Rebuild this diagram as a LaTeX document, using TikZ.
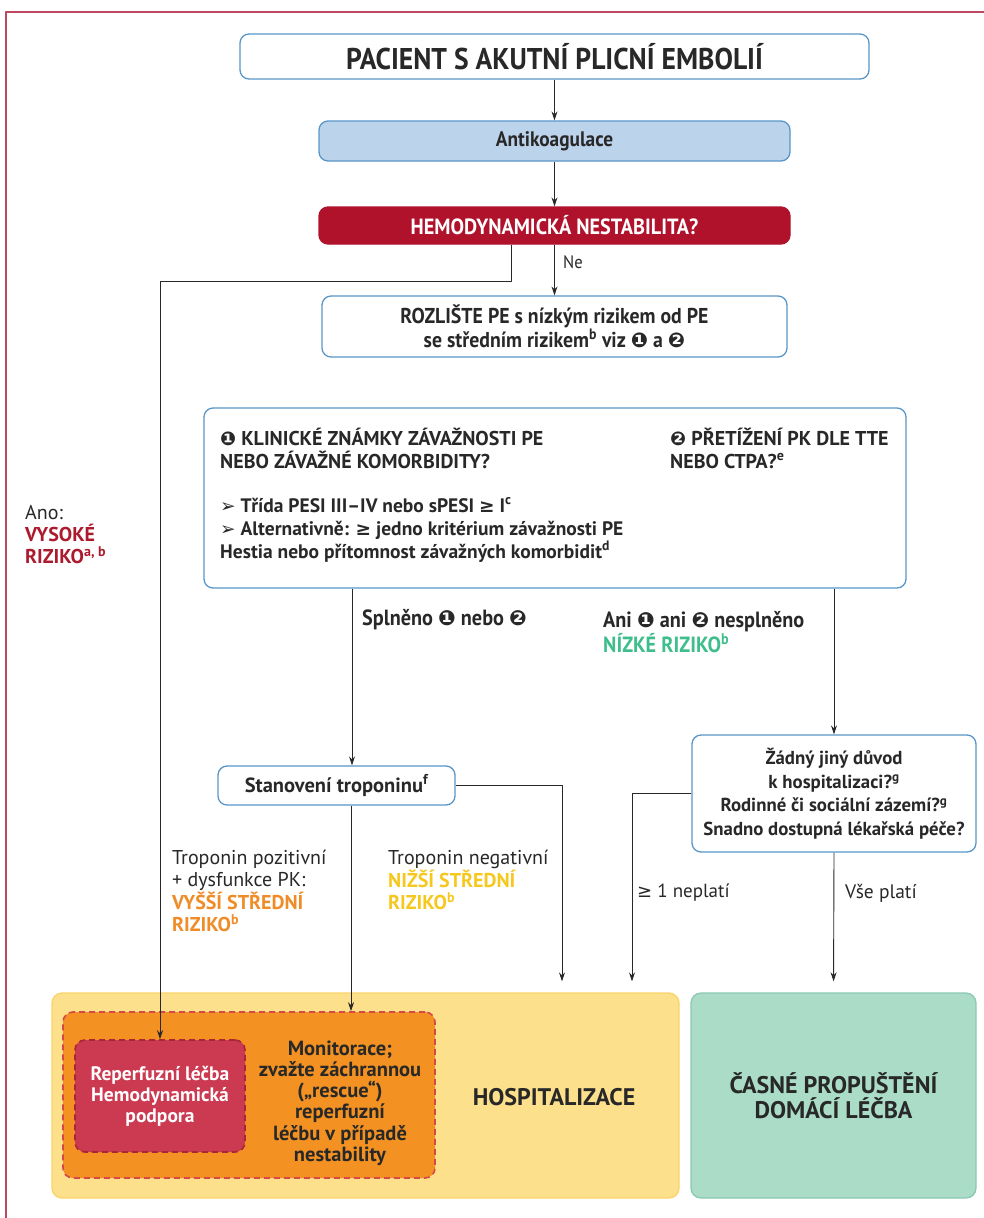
\documentclass[tikz,border=0pt]{standalone}
\usepackage{fontspec}
\setmainfont{PT Sans}
\newfontfamily\cond{PT Sans}[FakeStretch=0.92]
\newfontfamily\djs{DejaVu Sans}[Scale=0.95]
\usetikzlibrary{arrows.meta}
\definecolor{ink}{RGB}{40,40,40}
\definecolor{framered}{RGB}{190,72,98}
\definecolor{boxblue}{RGB}{88,150,200}
\definecolor{antiblue}{RGB}{188,211,236}
\definecolor{hemored}{RGB}{176,18,44}
\definecolor{riskred}{RGB}{172,26,46}
\definecolor{riskgreen}{RGB}{62,190,140}
\definecolor{riskorange}{RGB}{240,140,40}
\definecolor{riskyellow}{RGB}{246,200,30}
\definecolor{hospfill}{RGB}{253,224,140}
\definecolor{hospline}{RGB}{250,212,105}
\definecolor{monfill}{RGB}{243,146,34}
\definecolor{mondash}{RGB}{214,72,72}
\definecolor{repfill}{RGB}{204,58,82}
\definecolor{repdash}{RGB}{168,38,58}
\definecolor{propfill}{RGB}{170,220,200}
\definecolor{propline}{RGB}{140,200,178}
\newcommand{\numone}{{\djs ❶}}
\newcommand{\numtwo}{{\djs ❷}}
\newcommand{\bultip}{{\djs ➢}}
\newcommand{\geqs}{{\djs ≥}}
\newcommand{\fsz}[2]{\fontsize{#1}{#2}\selectfont}
\begin{document}
\begin{tikzpicture}[x=1pt,y=-1pt,>={Stealth[length=9pt,width=6pt]},line join=round,
		box/.style={draw=boxblue,line width=1.3pt,rounded corners=9pt,fill=white,align=center,text=ink,inner sep=0pt},
		arr/.style={->,draw=ink,line width=0.9pt},
		lbl/.style={anchor=west,align=left,inner sep=0pt,text=ink},
		zone/.style={line width=1.3pt,rounded corners=10pt,inner sep=0pt,text=ink,align=center},
		dashbox/.style={line width=1.6pt,dash pattern=on 6pt off 4pt,rounded corners=10pt,inner sep=0pt,align=center}]
	\useasboundingbox (0,0) rectangle (984,1218);
	\draw[framered,line width=2pt] (984,12)--(6,12)--(6,1218);
	% upper chain
	\node[box,minimum width=629,minimum height=45,font=\cond\bfseries\fsz{30}{34}] (pac) at (554.5,56.5) {PACIENT S AKUTNÍ PLICNÍ EMBOLIÍ};
	\node[box,fill=antiblue,minimum width=471,minimum height=40,font=\cond\bfseries\fsz{21}{24}] (anti) at (554.5,141) {Antikoagulace};
	\node[box,draw=hemored,fill=hemored,text=white,minimum width=471,minimum height=37,font=\cond\bfseries\fsz{22}{25}] (hemo) at (554.5,225.5) {HEMODYNAMICKÁ NESTABILITA?};
	\node[box,minimum width=465,minimum height=61,font=\cond\bfseries\fsz{21.5}{22}] (rozl) at (554.5,326.5) {ROZLIŠTE PE s nízkým rizikem od PE\\se středním rizikem\textsuperscript{b} viz \numone{} a \numtwo};
	\node[lbl,font=\cond\fsz{18}{20}] (ne) at (563,262) {Ne};
	\node[lbl,font=\fsz{20}{22}] (ano) at (25,535) {Ano:\\\textcolor{riskred}{\bfseries VYSOKÉ}\\\textcolor{riskred}{\bfseries RIZIKO\textsuperscript{a, b}}};
	% criteria
	\node[box,minimum width=702,minimum height=180] (crit) at (555,498) {};
	\node[lbl,font=\bfseries\fsz{20}{23}] (critA) at (220,448) {\numone{} KLINICKÉ ZNÁMKY ZÁVAŽNOSTI PE\\NEBO ZÁVAŽNÉ KOMORBIDITY?};
	\node[lbl,font=\bfseries\fsz{20}{23}] (critB) at (670,448) {\numtwo{} PŘETÍŽENÍ PK DLE TTE\\NEBO CTPA?\textsuperscript{e}};
	\node[lbl,font=\bfseries\fsz{19.5}{23}] (critC) at (220,530) {\bultip{} Třída PESI III–IV nebo sPESI \geqs{} I\textsuperscript{c}\\\bultip{} Alternativně: \geqs{} jedno kritérium závažnosti PE\\Hestia nebo přítomnost závažných komorbidit\textsuperscript{d}};
	\node[lbl,font=\cond\bfseries\fsz{22}{24}] (spl) at (362,620) {Splněno \numone{} nebo \numtwo};
	\node[lbl,font=\cond\bfseries\fsz{22}{25}] (ani) at (603,632) {Ani \numone{} ani \numtwo{} nesplněno\\\textcolor{riskgreen}{NÍZKÉ RIZIKO\textsuperscript{b}}};
	% troponin and discharge questions
	\node[box,minimum width=237,minimum height=39,font=\bfseries\fsz{20.5}{22}] (stan) at (336.5,785.5) {Stanovení troponinu\textsuperscript{f}};
	\node[box,minimum width=284,minimum height=117,font=\bfseries\fsz{18.8}{23.5}] (dom) at (834,793.5) {Žádný jiný důvod\\k hospitalizaci?\textsuperscript{g}\\Rodinné či sociální zázemí?\textsuperscript{g}\\Snadno dostupná lékařská péče?};
	\node[lbl,font=\fsz{20}{22.5}] (trpos) at (172,891) {Troponin pozitivní\\+ dysfunkce PK:\\\textcolor{riskorange}{\bfseries VYŠŠÍ STŘEDNÍ}\\\textcolor{riskorange}{\bfseries RIZIKO\textsuperscript{b}}};
	\node[lbl,font=\fsz{20}{22.5}] (trneg) at (388,880) {Troponin negativní\\\textcolor{riskyellow}{\bfseries NIŽŠÍ STŘEDNÍ}\\\textcolor{riskyellow}{\bfseries RIZIKO\textsuperscript{b}}};
	\node[lbl,font=\fsz{19}{22}] (nepl) at (637,893) {\geqs{} 1 neplatí};
	\node[lbl,font=\fsz{19.5}{22}] (vse) at (845,893) {Vše platí};
	% outcomes
	\node[zone,draw=hospline,fill=hospfill,minimum width=627,minimum height=205] (hosp) at (365.5,1095.5) {};
	\node[font=\bfseries\fsz{24}{26},text=ink] (hosptxt) at (554,1097) {HOSPITALIZACE};
	\node[dashbox,draw=mondash,fill=monfill,minimum width=372,minimum height=166] (mon) at (249,1095) {};
	\node[font=\bfseries\fsz{20.5}{21.2},text=ink,align=center] (montxt) at (340,1103) {Monitorace;\\zvažte záchrannou\\(„rescue“)\\reperfuzní\\léčbu v případě\\nestability};
	\node[dashbox,draw=repdash,fill=repfill,text=white,minimum width=170,minimum height=112,font=\bfseries\fsz{19.5}{21}] (rep) at (160,1096) {Reperfuzní léčba\\Hemodynamická\\podpora};
	\node[zone,draw=propline,fill=propfill,minimum width=285,minimum height=205,font=\bfseries\fsz{24}{25}] (prop) at (833.5,1095.5) {ČASNÉ PROPUŠTĚNÍ\\DOMÁCÍ LÉČBA};
	% connectors
	\draw[arr] (pac)--(anti);
	\draw[arr] (anti)--(hemo);
	\draw[arr] (hemo)--(rozl);
	\draw[arr] (hemo.south -| 511,0) |- (rep.north |- 0,281)--(rep.north);
	\draw[arr] (crit.south -| 352,0)--(stan.north -| 352,0);
	\draw[arr] (crit.south -| dom.north)--(dom.north);
	\draw[arr,shorten >=11pt] (stan.east) -| (hosp.north -| 562,0);
	\draw[arr] (stan.south -| 351,0)--(mon.north -| 351,0);
	\draw[arr,shorten >=11pt] (dom.west) -| (hosp.north -| 632,0);
	\draw[arr,shorten >=11pt] (dom.south)--(prop.north);
\end{tikzpicture}
\end{document}
